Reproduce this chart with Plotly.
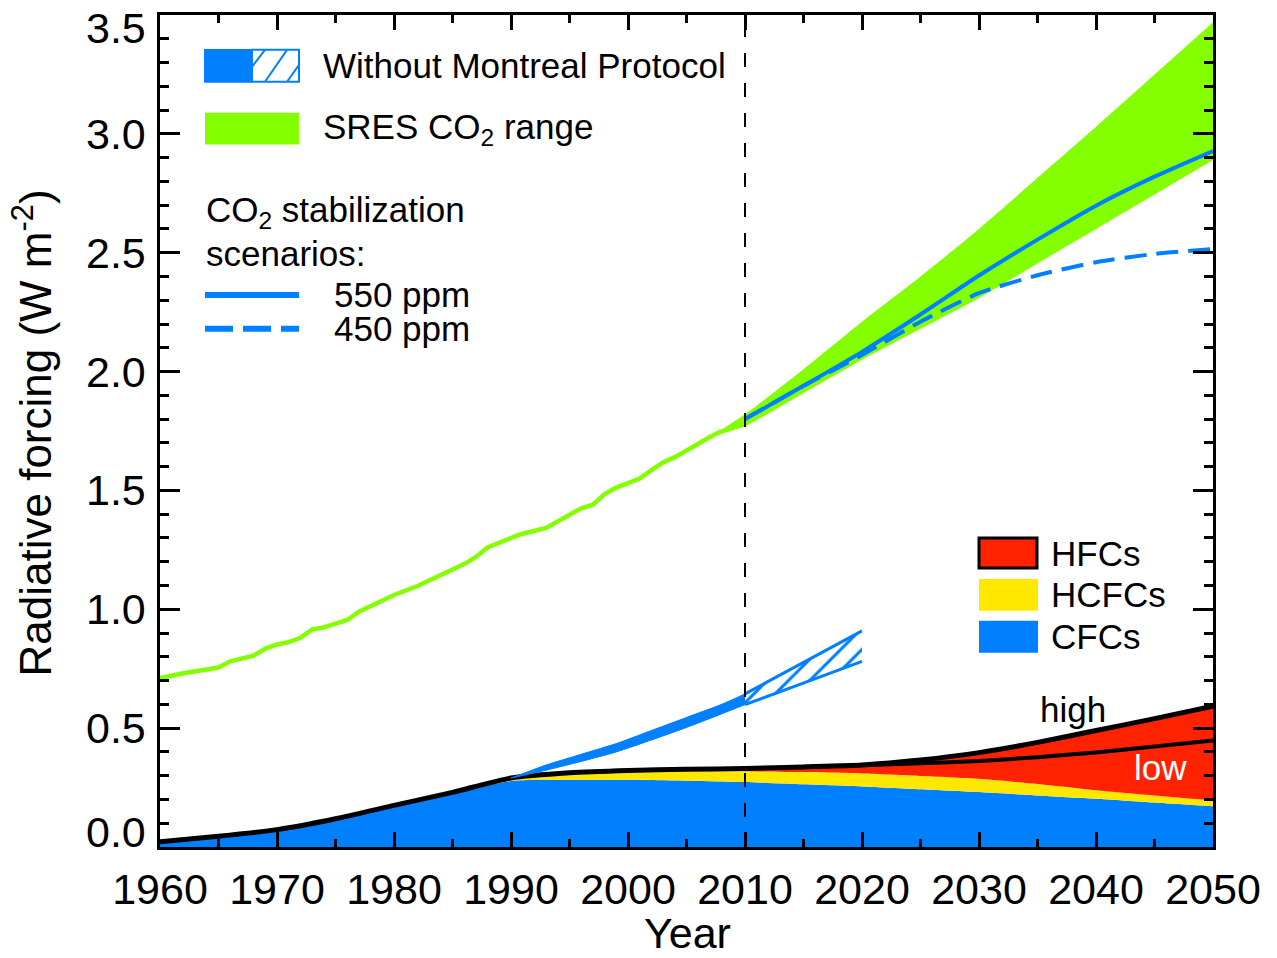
import numpy as np
import plotly.graph_objects as go

# ---------------- data ----------------
obs_years = [1960, 1962, 1965, 1966, 1968, 1969, 1970, 1971, 1972, 1973, 1974, 1976,
             1977, 1979, 1980, 1982, 1984, 1985, 1986, 1987, 1988, 1990, 1991, 1993,
             1995, 1996, 1997, 1998, 1999, 2000, 2001, 2002, 2003, 2004, 2005, 2006, 2007, 2008]
obs_co2 = [0.711, 0.731, 0.755, 0.781, 0.805, 0.835, 0.852, 0.862, 0.880, 0.915, 0.924, 0.955,
           0.990, 1.035, 1.060, 1.098, 1.145, 1.166, 1.190, 1.220, 1.260, 1.300, 1.318, 1.342,
           1.400, 1.425, 1.440, 1.485, 1.512, 1.530, 1.550, 1.585, 1.618, 1.640, 1.670, 1.700, 1.725, 1.750]

sres_years = [2007, 2010, 2015, 2020, 2025, 2030, 2035, 2040, 2045, 2050]
sres_high = [1.725, 1.82, 2.01, 2.21, 2.40, 2.60, 2.815, 3.03, 3.25, 3.47]
sres_low = [1.725, 1.77, 1.91, 2.05, 2.18, 2.31, 2.455, 2.60, 2.745, 2.89]

stab_years = [2010, 2015, 2020, 2025, 2030, 2035, 2040, 2045, 2050]
stab_550 = [1.80, 1.94, 2.083, 2.24, 2.404, 2.555, 2.698, 2.82, 2.928]
stab_450 = [1.80, 1.94, 2.07, 2.21, 2.33, 2.405, 2.46, 2.495, 2.515]

wmp_years = [1990, 1993, 1996, 1999, 2002, 2005, 2008, 2010]
wmp_high = [0.29, 0.345, 0.39, 0.435, 0.49, 0.545, 0.60, 0.644]
wmp_low = [0.29, 0.323, 0.36, 0.40, 0.45, 0.503, 0.56, 0.599]
wmp_ext_years = [2010, 2012.5, 2015, 2017.5, 2020]
wmp_ext_high = [0.644, 0.71, 0.775, 0.84, 0.909]
wmp_ext_low = [0.599, 0.645, 0.69, 0.735, 0.781]

ods_years = [1960, 1965, 1970, 1975, 1980, 1985, 1990, 1995, 2000, 2005,
             2010, 2015, 2020, 2025, 2030, 2035, 2040, 2045, 2050]
cfcs = [0.022, 0.045, 0.072, 0.116, 0.169, 0.222, 0.278, 0.283, 0.283, 0.279,
        0.273, 0.264, 0.255, 0.243, 0.231, 0.217, 0.203, 0.187, 0.171]
hcfcs = [0.0, 0.0, 0.001, 0.003, 0.006, 0.008, 0.012, 0.025, 0.032, 0.040,
         0.046, 0.051, 0.054, 0.056, 0.056, 0.048, 0.036, 0.030, 0.025]
hfcs_low = [0.0, 0.0, 0.0, 0.0, 0.0, 0.0, 0.0, 0.004, 0.007, 0.008,
            0.011, 0.022, 0.036, 0.053, 0.075, 0.113, 0.159, 0.206, 0.252]
hfcs_high = [0.0, 0.0, 0.0, 0.0, 0.0, 0.0, 0.0, 0.004, 0.007, 0.008,
             0.011, 0.022, 0.036, 0.067, 0.110, 0.175, 0.251, 0.323, 0.396]

x_ticks = [1960, 1970, 1980, 1990, 2000, 2010, 2020, 2030, 2040, 2050]
y_ticks = [0.0, 0.5, 1.0, 1.5, 2.0, 2.5, 3.0, 3.5]
y_ticklabels = ["0.0", "0.5", "1.0", "1.5", "2.0", "2.5", "3.0", "3.5"]

# ---------------- styles ----------------
BLUE = "#0080FF"
GREEN = "#84FF00"
RED = "#FF2200"
YELLOW = "#FFE800"
FONT = "Liberation Sans"

PAGE_OFF = 8                      # default body margin of the html page
W, H = 1277 - PAGE_OFF, 958 - PAGE_OFF
L, R, T, B = 160, 1213, 12, 847   # plot area in screen pixels


def px(x):
    return (x - L) / (R - L)


def py(y):
    return (B - y) / (B - T)


cfc_top = np.array(cfcs)
hcfc_top = cfc_top + np.array(hcfcs)
low_top = hcfc_top + np.array(hfcs_low)
high_top = hcfc_top + np.array(hfcs_high)

fig = go.Figure()
SM = dict(shape="spline", smoothing=0.6)

# stacked ODS / HFC areas
fig.add_trace(go.Scatter(x=ods_years, y=cfc_top, mode="lines", line=dict(width=0, color=BLUE, **SM),
                         fill="tozeroy", fillcolor=BLUE, showlegend=False, name="CFCs"))
fig.add_trace(go.Scatter(x=ods_years, y=hcfc_top, mode="lines", line=dict(width=0, color=YELLOW, **SM),
                         fill="tonexty", fillcolor=YELLOW, showlegend=False, name="HCFCs"))
fig.add_trace(go.Scatter(x=ods_years, y=high_top, mode="lines", line=dict(width=0, color=RED, **SM),
                         fill="tonexty", fillcolor=RED, showlegend=False, name="HFCs"))
fig.add_trace(go.Scatter(x=ods_years, y=high_top, mode="lines", line=dict(width=5, color="black", **SM),
                         showlegend=False, name="high"))
fig.add_trace(go.Scatter(x=ods_years[11:], y=low_top[11:], mode="lines",
                         line=dict(width=4, color="black", **SM), showlegend=False, name="low"))

# Without Montreal Protocol (solid then hatched)
fig.add_trace(go.Scatter(x=wmp_years, y=wmp_high, mode="lines", line=dict(width=1, color=BLUE, **SM),
                         showlegend=False))
fig.add_trace(go.Scatter(x=wmp_years, y=wmp_low, mode="lines", line=dict(width=1, color=BLUE, **SM),
                         fill="tonexty", fillcolor=BLUE, showlegend=False))
fig.add_trace(go.Scatter(x=wmp_ext_years, y=wmp_ext_high, mode="lines", line=dict(width=3, color=BLUE),
                         showlegend=False))
fig.add_trace(go.Scatter(x=wmp_ext_years, y=wmp_ext_low, mode="lines", line=dict(width=3, color=BLUE),
                         fill="tonexty", fillcolor="white",
                         fillpattern=dict(shape="/", fgcolor=BLUE, bgcolor="white",
                                          size=15, solidity=0.2, fillmode="replace"),
                         showlegend=False))

# observed CO2 and SRES range
fig.add_trace(go.Scatter(x=obs_years, y=obs_co2, mode="lines", line=dict(width=4.5, color=GREEN),
                         showlegend=False))
fig.add_trace(go.Scatter(x=sres_years, y=sres_high, mode="lines", line=dict(width=0, color=GREEN, **SM),
                         showlegend=False))
fig.add_trace(go.Scatter(x=sres_years, y=sres_low, mode="lines", line=dict(width=0, color=GREEN, **SM),
                         fill="tonexty", fillcolor=GREEN, showlegend=False))

# stabilization scenarios
fig.add_trace(go.Scatter(x=stab_years, y=stab_450, mode="lines",
                         line=dict(width=4, color=BLUE, dash="22px,10px", **SM), showlegend=False))
fig.add_trace(go.Scatter(x=stab_years, y=stab_550, mode="lines",
                         line=dict(width=4, color=BLUE, **SM), showlegend=False))

# ---------------- axes ----------------
fig.update_xaxes(range=[1960, 2050], tickvals=x_ticks, ticks="inside", ticklen=15, tickwidth=3,
                 tickcolor="black", showline=True, linewidth=3, linecolor="black", mirror="allticks",
                 minor=dict(ticks="inside", ticklen=8, tickwidth=3, tickcolor="black", dtick=5, tick0=1960),
                 tickfont=dict(size=43, family=FONT, color="black"), showgrid=False, zeroline=False,
                 ticklabelstandoff=2)
fig.update_yaxes(range=[0, 3.5], tickvals=y_ticks, ticks="inside", ticklen=20, tickwidth=3,
                 tickcolor="black", showline=True, linewidth=3, linecolor="black", mirror="allticks",
                 minor=dict(ticks="inside", ticklen=9, tickwidth=3, tickcolor="black", dtick=0.1, tick0=0),
                 showticklabels=False, showgrid=False, zeroline=False)

shapes = []
# 2010 divider
shapes.append(dict(type="line", xref="x", yref="paper", x0=2010, x1=2010, y0=0, y1=1,
                   line=dict(color="black", width=2, dash="14px,16px"), layer="above"))

# legend 1
shapes.append(dict(type="rect", xref="paper", yref="paper", x0=px(204), x1=px(252), y0=py(80), y1=py(46),
                   fillcolor=BLUE, line=dict(width=0)))
shapes.append(dict(type="rect", xref="paper", yref="paper", x0=px(252), x1=px(299), y0=py(79), y1=py(47),
                   fillcolor="white", line=dict(width=2, color=BLUE)))
for (xa, ya, xb, yb) in [(252, 64, 265, 47), (265, 79, 287, 47), (287, 79, 299, 62)]:
    shapes.append(dict(type="line", xref="paper", yref="paper", x0=px(xa), y0=py(ya), x1=px(xb), y1=py(yb),
                       line=dict(width=2, color=BLUE)))
shapes.append(dict(type="rect", xref="paper", yref="paper", x0=px(205), x1=px(299), y0=py(142), y1=py(110),
                   fillcolor=GREEN, line=dict(width=0)))
shapes.append(dict(type="line", xref="paper", yref="paper", x0=px(205), x1=px(299), y0=py(293), y1=py(293),
                   line=dict(width=6, color=BLUE)))
shapes.append(dict(type="line", xref="paper", yref="paper", x0=px(205), x1=px(299), y0=py(327), y1=py(327),
                   line=dict(width=6, color=BLUE, dash="28px,10px")))
# legend 2
shapes.append(dict(type="rect", xref="paper", yref="paper", x0=px(979), x1=px(1037), y0=py(567), y1=py(537),
                   fillcolor=RED, line=dict(width=3, color="black")))
shapes.append(dict(type="rect", xref="paper", yref="paper", x0=px(979), x1=px(1038), y0=py(610), y1=py(578),
                   fillcolor=YELLOW, line=dict(width=0)))
shapes.append(dict(type="rect", xref="paper", yref="paper", x0=px(979), x1=px(1038), y0=py(652), y1=py(620),
                   fillcolor=BLUE, line=dict(width=0)))

annotations = []


def txt(text, x, y, size=35, color="black", xanchor="left", **kw):
    annotations.append(dict(text=text, xref="paper", yref="paper", x=px(x), y=py(y), xanchor=xanchor,
                            yanchor="middle", showarrow=False,
                            font=dict(size=size, family=FONT, color=color), **kw))


txt("Without Montreal Protocol", 321, 63)
txt("SRES CO<sub>2</sub> range", 321, 126)
txt("CO<sub>2</sub> stabilization", 204, 210)
txt("scenarios:", 204, 251)
txt("550 ppm", 332, 293)
txt("450 ppm", 332, 327)
txt("HFCs", 1049, 552)
txt("HCFCs", 1049, 594)
txt("CFCs", 1049, 636)
txt("high", 1073, 709, xanchor="center")
txt("low", 1160, 767, color="white", xanchor="center")

# y tick labels
for v, lab in zip(y_ticks, y_ticklabels):
    shift = 0
    if v == y_ticks[0]:
        shift = 15
    elif v == y_ticks[-1]:
        shift = -13
    annotations.append(dict(text=lab, xref="paper", yref="y", x=px(148), y=v, xanchor="right",
                            yanchor="middle", yshift=shift, showarrow=False,
                            font=dict(size=43, family=FONT, color="black")))

# axis titles
annotations.append(dict(text="Radiative forcing (W m<sup>-2</sup>)", xref="paper", yref="paper",
                        x=px(32), y=py(432), xanchor="center", yanchor="middle", textangle=-90,
                        showarrow=False, font=dict(size=44, family=FONT, color="black")))
txt("Year", 687, 933, size=43, xanchor="center")

fig.update_layout(width=W, height=H,
                  margin=dict(l=L - PAGE_OFF, r=W + PAGE_OFF - R, t=T - PAGE_OFF, b=H + PAGE_OFF - B),
                  paper_bgcolor="white", plot_bgcolor="white", shapes=shapes, annotations=annotations,
                  showlegend=False)

fig.write_html("out.html")
